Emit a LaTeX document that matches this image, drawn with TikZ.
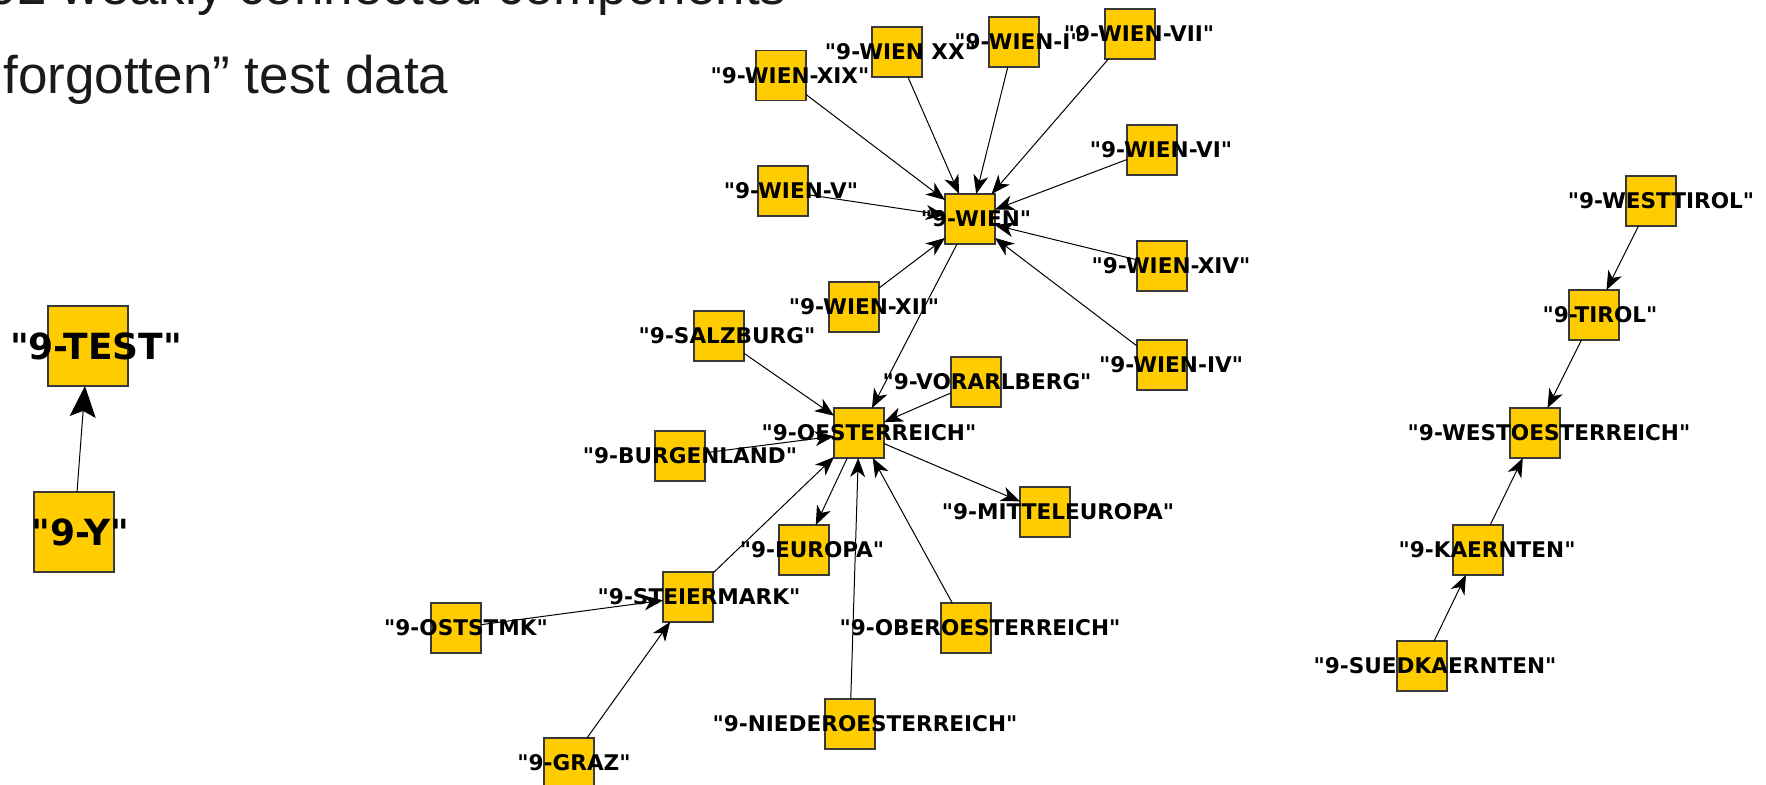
\documentclass[tikz,border=0pt]{standalone}
\usepackage{fontspec}
\setmainfont{DejaVu Sans}
\newfontfamily\labelfont{DejaVu Sans}
\newfontfamily\slidefont{Liberation Sans}
\usetikzlibrary{arrows.meta}
\definecolor{boxfill}{HTML}{FFCC00}
\definecolor{slidetext}{HTML}{1A1A1A}
\definecolor{boxline}{HTML}{3A3A3A}
\begin{document}
\begin{tikzpicture}[x=0.5pt,y=-0.5pt,
  vbox/.style={draw=boxline, line width=0.6pt, fill=boxfill, minimum width=25pt, minimum height=25pt, inner sep=0pt, outer sep=0pt},
  bigbox/.style={vbox, minimum width=40pt, minimum height=40pt},
  lbl/.style={font=\labelfont\bfseries\fontsize{10.8}{12}\selectfont, inner sep=0pt},
  biglbl/.style={font=\labelfont\bfseries\fontsize{18}{20}\selectfont, inner sep=0pt},
  edge/.style={line width=0.5pt, -{Stealth[length=9.5pt,width=7.5pt,inset=2.8pt]}},
  bigedge/.style={line width=0.5pt, -{Stealth[length=15.5pt,width=13pt,inset=3pt]}},
  slide/.style={font=\slidefont\fontsize{26.5}{30}\selectfont, text=slidetext, inner sep=0pt}
]
\useasboundingbox (0,0) rectangle (1766,784);
\clip (0,0) rectangle (1766,784);

% slide text
\node[slide, anchor=base east] (t1) at (787,4.5) {92 weakly connected components};
\node[slide, anchor=base west] (t2) at (3,93) {forgotten” test data};

% boxes
\node[vbox] (xix) at (781,75.5) {};
\node[vbox] (xx) at (897,52) {};
\node[vbox] (wi) at (1014,42) {};
\node[vbox] (vii) at (1130,34) {};
\node[vbox] (vi) at (1152,150) {};
\node[vbox] (v) at (783,191) {};
\node[vbox] (wien) at (970,219) {};
\node[vbox] (xiv) at (1162,266) {};
\node[vbox] (xii) at (854,307) {};
\node[vbox] (salz) at (719,336) {};
\node[vbox] (iv) at (1162,365) {};
\node[vbox] (vor) at (976,382) {};
\node[vbox] (oest) at (859,433) {};
\node[vbox] (burg) at (680,456) {};
\node[vbox] (mittel) at (1045,512) {};
\node[vbox] (europa) at (804,550) {};
\node[vbox] (steier) at (688,597) {};
\node[vbox] (oststmk) at (456,628) {};
\node[vbox] (ober) at (966,628) {};
\node[vbox] (nieder) at (850,724) {};
\node[vbox] (graz) at (569,763) {};
\node[vbox] (westtirol) at (1651,201) {};
\node[vbox] (tirol) at (1594,315) {};
\node[vbox] (westoest) at (1535,433) {};
\node[vbox] (kaern) at (1478,550) {};
\node[vbox] (suedk) at (1422,666) {};
\node[bigbox] (test) at (88,346) {};
\node[bigbox] (y) at (74,532) {};

% edges
\draw[edge] (xix) -- (wien);
\draw[edge] (xx) -- (wien);
\draw[edge] (wi) -- (wien);
\draw[edge] (vii) -- (wien);
\draw[edge] (vi) -- (wien);
\draw[edge] (v) -- (wien);
\draw[edge] (xiv) -- (wien);
\draw[edge] (xii) -- (wien);
\draw[edge] (iv) -- (wien);
\draw[edge] (wien) -- (oest);
\draw[edge] (salz) -- (oest);
\draw[edge] (vor) -- (oest);
\draw[edge] (burg) -- (oest);
\draw[edge] (oest) -- (mittel);
\draw[edge] (oest) -- (europa);
\draw[edge] (steier) -- (oest);
\draw[edge] (nieder) -- (oest);
\draw[edge] (ober) -- (oest);
\draw[edge] (oststmk) -- (steier);
\draw[edge] (graz) -- (steier);
\draw[edge] (westtirol) -- (tirol);
\draw[edge] (tirol) -- (westoest);
\draw[edge] (kaern) -- (westoest);
\draw[edge] (suedk) -- (kaern);
\draw[bigedge] (y) -- (test);

% labels
\node[lbl] (l-xix) at (790,75.5) {"9-WIEN-XIX"};
\node[lbl] (l-xx) at (900.5,52) {"9-WIEN XX"};
\node[lbl] (l-wi) at (1018,42) {"9-WIEN-I"};
\node[lbl] (l-vii) at (1139,34) {"9-WIEN-VII"};
\node[lbl] (l-vi) at (1161,150) {"9-WIEN-VI"};
\node[lbl] (l-v) at (791,191) {"9-WIEN-V"};
\node[lbl] (l-wien) at (976,219) {"9-WIEN"};
\node[lbl] (l-xiv) at (1171,266) {"9-WIEN-XIV"};
\node[lbl] (l-xii) at (864,307) {"9-WIEN-XII"};
\node[lbl] (l-salz) at (727,336) {"9-SALZBURG"};
\node[lbl] (l-iv) at (1171,365) {"9-WIEN-IV"};
\node[lbl] (l-vor) at (987,382) {"9-VORARLBERG"};
\node[lbl] (l-oest) at (869,433) {"9-OESTERREICH"};
\node[lbl] (l-burg) at (690,456) {"9-BURGENLAND"};
\node[lbl] (l-mittel) at (1058,512) {"9-MITTELEUROPA"};
\node[lbl] (l-europa) at (812,550) {"9-EUROPA"};
\node[lbl] (l-steier) at (699,597) {"9-STEIERMARK"};
\node[lbl] (l-oststmk) at (466,628) {"9-OSTSTMK"};
\node[lbl] (l-ober) at (980,628) {"9-OBEROESTERREICH"};
\node[lbl] (l-nieder) at (865,724) {"9-NIEDEROESTERREICH"};
\node[lbl] (l-graz) at (574,763) {"9-GRAZ"};
\node[lbl] (l-westtirol) at (1661,201) {"9-WESTTIROL"};
\node[lbl] (l-tirol) at (1600,315) {"9-TIROL"};
\node[lbl] (l-westoest) at (1549,433) {"9-WESTOESTERREICH"};
\node[lbl] (l-kaern) at (1487,550) {"9-KAERNTEN"};
\node[lbl] (l-suedk) at (1435,666) {"9-SUEDKAERNTEN"};
\node[biglbl] (l-test) at (96,346) {"9-TEST"};
\node[biglbl] (l-y) at (80.5,532) {"9-Y"};
\end{tikzpicture}
\end{document}
